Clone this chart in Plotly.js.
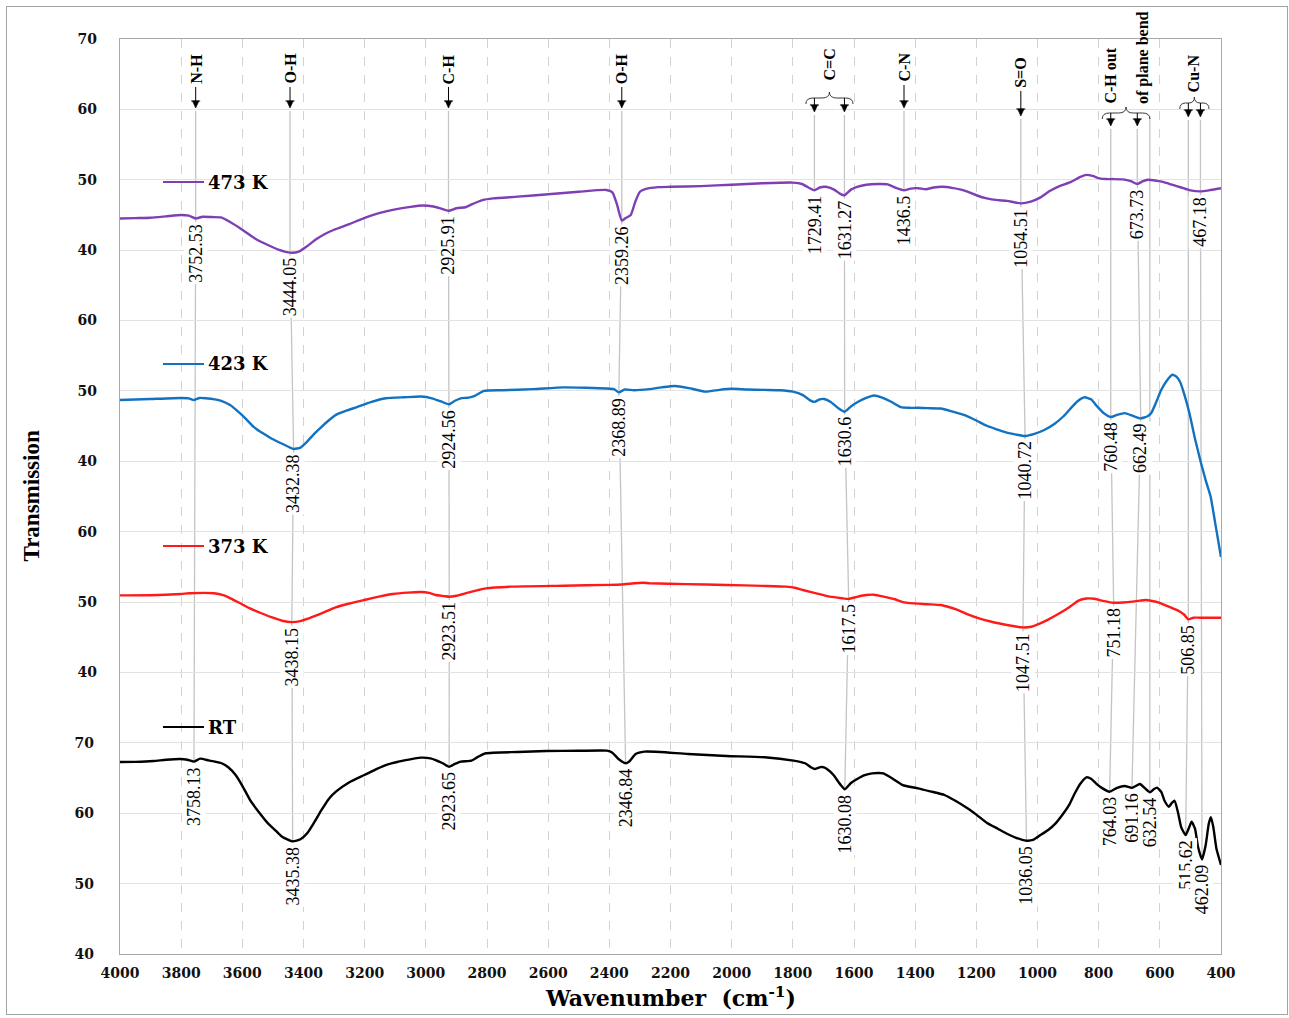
<!DOCTYPE html>
<html>
<head>
<meta charset="utf-8">
<script src="https://cdn.plot.ly/plotly-3.0.1.min.js"></script>
<style>
  html, body { margin: 0; padding: 0; background: #fff; }
  #chart { position: absolute; left: 0; top: 0; width: 1289px; height: 1018px; }
  #frame { position: absolute; left: 6px; top: 6px; width: 1282px; height: 1009px;
           border: 1px solid #a3a3a3; box-sizing: border-box; pointer-events: none; }
</style>
</head>
<body>
<div id="chart"></div>
<div id="frame"></div>
<script>
// ---- FTIR spectra (wavenumber in cm-1, transmission) ----
const seriesNames  = ['473 K', '423 K', '373 K', 'RT'];
const seriesColors = ['#7E3FB4', '#1272C2', '#FF1A1A', '#000000'];

const wn473 = [4000,3950,3900,3850,3800,3775,3752.53,3730,3700,3670,3640,3600,3560,3520,3480,3444.05,3415,3390,3360,3330,3300,3250,3200,3150,3100,3050,3010,2975,2950,2925.91,2900,2870,2850,2815,2780,2700,2600,2500,2410,2390,2375,2359.26,2345,2330,2315,2300,2280,2240,2200,2100,2000,1900,1800,1770,1745,1729.41,1712,1692,1665,1645,1631.27,1610,1590,1560,1520,1490,1460,1436.5,1415,1390,1365,1340,1310,1280,1250,1229,1200,1166,1130,1100,1054.51,1022,990,960,928,890,860,840,820,797,775,753,720,695,673.73,655,640,610,590,560,530,500,467.18,440,400];
const t473 = [44.5,44.55,44.6,44.8,45.0,44.9,44.5,44.75,44.7,44.65,44.0,42.9,41.7,40.8,40.05,39.65,39.8,40.5,41.5,42.3,42.9,43.7,44.6,45.3,45.8,46.15,46.35,46.2,45.9,45.6,45.95,46.1,46.5,47.1,47.35,47.6,47.95,48.3,48.55,48.2,46.5,44.2,44.6,45.0,46.9,48.3,48.7,48.95,49.0,49.1,49.3,49.5,49.6,49.4,48.8,48.5,48.9,49.0,48.6,48.0,47.8,48.6,49.0,49.3,49.4,49.35,48.8,48.5,48.75,48.8,48.65,48.9,49.0,48.85,48.6,48.3,47.8,47.35,47.1,47.0,46.65,46.9,47.5,48.4,49.1,49.7,50.4,50.7,50.55,50.2,50.1,50.1,50.05,49.8,49.4,49.8,50.0,49.85,49.7,49.3,48.9,48.5,48.35,48.5,48.8];

const wn423 = [4000,3900,3800,3775,3759,3740,3720,3690,3669,3640,3620,3590,3563,3530,3505,3470,3432.38,3410,3388,3365,3341,3315,3294,3260,3225,3180,3131,3070,3015,2980,2950,2924.56,2905,2886,2860,2840,2810,2750,2650,2550,2480,2410,2385,2368.89,2350,2320,2270,2230,2185,2140,2086,2040,1999,1950,1892,1842,1800,1767,1745,1729,1712,1698,1675,1650,1630.6,1610,1585,1560,1535,1510,1480,1460,1447,1420,1391,1360,1316,1280,1241,1200,1166,1130,1103,1070,1040.72,1010,978,945,915,890,870,846,825,805,785,760.48,740,715,690,662.49,640,628,610,596,575,559,545,534,520,503,485,465,450,434,420,400];
const t423 = [48.7,48.85,49.0,48.95,48.7,49.0,48.95,48.8,48.6,48.0,47.3,46.1,44.9,43.9,43.25,42.5,41.75,41.95,42.8,43.9,44.9,45.9,46.6,47.2,47.7,48.4,48.95,49.1,49.2,48.95,48.5,48.1,48.6,48.95,49.05,49.3,50.0,50.1,50.25,50.5,50.45,50.35,50.25,49.8,50.2,50.1,50.25,50.5,50.7,50.4,49.9,50.15,50.3,50.2,50.15,50.1,49.9,49.4,48.7,48.45,48.8,48.85,48.4,47.5,47.05,47.8,48.5,49.0,49.35,49.1,48.5,48.0,47.7,47.6,47.6,47.55,47.5,47.1,46.6,45.8,45.05,44.5,44.1,43.8,43.6,43.9,44.45,45.3,46.4,47.6,48.5,49.1,48.8,47.8,46.9,46.3,46.6,46.85,46.5,46.1,46.4,46.85,48.6,50.1,51.6,52.3,52.0,51.3,49.5,46.8,43.2,39.7,37.3,35.0,31.5,26.4];

const wn373 = [4000,3900,3800,3774,3693,3660,3645,3610,3575,3540,3505,3470,3438.15,3410,3388,3364,3330,3295,3250,3201,3150,3108,3060,3015,2990,2968,2940,2923.51,2900,2862,2830,2804,2722,2548,2400,2361,2290,2268,2150,2017,1900,1823,1790,1767,1720,1679,1640,1617.5,1590,1560,1535,1500,1466,1440,1417,1360,1316,1290,1266,1230,1191,1150,1116,1080,1047.51,1020,1003,970,928,895,866,840,815,790,751.18,720,690,665,647,625,603,585,565,545,534,520,506.85,490,470,400];
const t373 = [50.95,50.97,51.15,51.25,51.25,50.95,50.68,49.9,49.1,48.45,47.85,47.35,47.15,47.3,47.6,48.0,48.6,49.25,49.8,50.3,50.8,51.15,51.35,51.43,51.3,51.0,50.85,50.75,50.9,51.35,51.7,51.95,52.19,52.33,52.45,52.5,52.75,52.67,52.55,52.43,52.3,52.19,52.0,51.72,51.2,50.77,50.55,50.45,50.75,51.0,51.05,50.75,50.4,50.0,49.85,49.7,49.58,49.3,48.97,48.3,47.69,47.2,46.89,46.6,46.4,46.5,46.75,47.4,48.4,49.3,50.2,50.5,50.48,50.2,49.9,49.95,50.06,50.2,50.3,50.15,49.91,49.6,49.26,48.9,48.64,48.2,47.55,47.78,47.78,47.78];

const wnRT = [4000,3950,3890,3850,3803,3780,3758.13,3738,3710,3668,3645,3622,3600,3575,3545,3517,3490,3470,3435.38,3410,3388,3365,3341,3318,3294,3250,3201,3160,3131,3070,3015,2985,2968,2945,2923.65,2905,2886,2851,2830,2804,2700,2606,2500,2408,2390,2370,2346.84,2335,2314,2285,2234,2143,2017,1892,1798,1760,1740,1727,1710,1698,1680,1667,1645,1630.08,1610,1591,1565,1541,1504,1470,1441,1391,1350,1304,1270,1229,1200,1166,1130,1103,1070,1036.05,1015,990,965,940,915,895,878,860,840,825,809,790,764.03,740,715,700,691.16,675,665,650,632.54,620,609,595,585,571,560,552,540,530,515.62,505,496,485,475,462.09,450,440,433,425,415,400];
const tRT = [67.28,67.3,67.42,67.6,67.71,67.6,67.33,67.75,67.5,67.1,66.5,65.43,63.9,61.9,60.1,58.6,57.5,56.67,56.0,56.3,57.15,58.7,60.46,62.0,63.06,64.4,65.43,66.3,66.85,67.5,67.9,67.8,67.56,67.1,66.6,67.0,67.33,67.47,68.0,68.52,68.7,68.84,68.87,68.89,68.6,67.7,67.1,67.35,68.42,68.75,68.7,68.42,68.13,67.95,67.47,67.1,66.5,66.29,66.55,66.53,66.0,65.43,64.1,63.4,64.3,64.82,65.4,65.67,65.67,64.8,64.0,63.54,63.1,62.59,61.8,60.7,59.8,58.66,57.8,57.15,56.5,56.1,56.2,56.9,57.62,58.6,59.99,61.3,62.83,64.2,65.1,64.9,64.25,63.6,63.06,63.6,63.87,63.7,63.6,63.95,64.15,63.6,62.97,63.4,63.63,63.0,61.8,60.93,61.5,61.78,60.0,58.0,56.9,57.9,58.8,57.8,55.2,53.45,55.5,58.5,59.42,58.0,55.0,52.65];

// ---- marked band positions ----
const peakSeries = ['473 K','473 K','473 K','473 K','473 K','473 K','473 K','473 K','473 K','473 K',
                    '423 K','423 K','423 K','423 K','423 K','423 K','423 K',
                    '373 K','373 K','373 K','373 K','373 K','373 K',
                    'RT','RT','RT','RT','RT','RT','RT','RT','RT','RT','RT'];
const peakText = ['3752.53','3444.05','2925.91','2359.26','1729.41','1631.27','1436.5','1054.51','673.73','467.18',
                  '3432.38','2924.56','2368.89','1630.6','1040.72','760.48','662.49',
                  '3438.15','2923.51','1617.5','1047.51','751.18','506.85',
                  '3758.13','3435.38','2923.65','2346.84','1630.08','1036.05','764.03','691.16','632.54','515.62','462.09'];
const peakWn = peakText.map(Number);

// band assignments; each chain lists the peaks joined by one guide line
const groupLabels = [['N-H'],['O-H'],['C-H'],['O-H'],['C=C'],['C-N'],['S=O'],['C-H out','of plane bend'],['Cu-N']];
const groupChains = [[[0,23]], [[1,10,17,24]], [[2,11,18,25]], [[3,12,26]], [[4],[5,13,19,27]],
                     [[6]], [[7,14,20,28]], [[15,21,29],[8,16,30]], [[22,32],[9,33]]];
const groupTail = [null, null, null, null, null, null, null, 31, null];

// header geometry (page rows, px)
const headerGeom = [
  {textBottom: 86, tip: 108}, {textBottom: 86, tip: 108}, {textBottom: 86, tip: 108},
  {textBottom: 86, tip: 108}, {textBottom: 82, brace: 98, tip: 112}, {textBottom: 84, tip: 108},
  {textBottom: 90, tip: 116}, {textBottom: 106, brace: 113, tip: 126}, {textBottom: 94, brace: 103, tip: 117}
];

// ---- layout helpers ----
const W = 1289, H = 1018;
const M = {l: 120, r: 68, t: 39, b: 64};
const plotH = H - M.t - M.b, plotW = W - M.l - M.r;
const plotBottom = H - M.b;
const xSpan = 4000 - 400;
const paperY = row => (plotBottom - row) / plotH;
const paperX = col => (col - M.l) / plotW;
const pxToWn = px => px * xSpan / plotW;

const seriesData = {
  '473 K': {x: wn473, y: t473, axis: 'y4', range: [-60, 70], ticks: [40, 50, 60, 70]},
  '423 K': {x: wn423, y: t423, axis: 'y3', range: [-30, 100], ticks: [40, 50, 60]},
  '373 K': {x: wn373, y: t373, axis: 'y2', range: [0, 130], ticks: [40, 50, 60]},
  'RT':    {x: wnRT,  y: tRT,  axis: 'y',  range: [40, 170], ticks: [40, 50, 60, 70]}
};
const baseRange = seriesData['RT'].range;
// value on the base (RT) axis for a transmission value of a given series
const toBase = (name, t) => t + (baseRange[0] - seriesData[name].range[0]);
const paperToBase = p => baseRange[0] + p * (baseRange[1] - baseRange[0]);

function valueAt(name, wn) {
  const s = seriesData[name];
  const i = s.x.indexOf(wn);
  if (i >= 0) return s.y[i];
  for (let k = 0; k < s.x.length - 1; k++) {
    if (s.x[k] >= wn && s.x[k + 1] <= wn) {
      const f = (s.x[k] - wn) / (s.x[k] - s.x[k + 1]);
      return s.y[k] + f * (s.y[k + 1] - s.y[k]);
    }
  }
  return s.y[s.y.length - 1];
}

// ---- traces ----
const traces = seriesNames.map((name, i) => ({
  type: 'scatter', mode: 'lines', name: name,
  x: seriesData[name].x, y: seriesData[name].y,
  yaxis: seriesData[name].axis,
  line: {color: seriesColors[i], width: 2.4, shape: 'spline', smoothing: 0.5},
  hoverinfo: 'skip'
}));

const shapes = [];
const annotations = [];
const guide = {color: '#c4c4c4', width: 1.3};
const peakFont = {family: 'Liberation Serif, Times New Roman, serif', size: 18, color: '#000'};
const headFont = {family: 'Liberation Serif, Times New Roman, serif', size: 16, color: '#000', weight: 'bold'};

// down-pointing marker: stem plus filled head, tip at page row `tipRow`
function downArrow(wn, topRow, tipRow) {
  const half = pxToWn(3.2), headH = 7;
  shapes.push({type: 'line', xref: 'x', yref: 'paper', layer: 'above',
    x0: wn, x1: wn, y0: paperY(topRow), y1: paperY(tipRow - headH + 1),
    line: {color: '#000', width: 1}});
  shapes.push({type: 'path', xref: 'x', yref: 'paper', layer: 'above',
    path: `M ${wn + half},${paperY(tipRow - headH)} L ${wn - half},${paperY(tipRow - headH)} L ${wn},${paperY(tipRow)} Z`,
    fillcolor: '#000', line: {color: '#000', width: 0.6}});
  const bar = pxToWn(4.5);
  shapes.push({type: 'line', xref: 'x', yref: 'paper', layer: 'above',
    x0: wn + bar, x1: wn - bar, y0: paperY(tipRow - headH), y1: paperY(tipRow - headH),
    line: {color: '#000', width: 1}});
}

// guide lines from header arrows down through the spectra
groupChains.forEach((chains, g) => {
  const geom = headerGeom[g];
  const firstWns = chains.map(c => peakWn[c[0]]);
  let labelWn;
  if (geom.brace !== undefined) {
    const pad = 28;
    const left = Math.max(...firstWns) + pad;
    const right = groupTail[g] !== null ? peakWn[groupTail[g]] : Math.min(...firstWns) - pad;
    const mid = (left + right) / 2;
    labelWn = mid;
    const yb = paperY(geom.brace), h = 6 / plotH, d = Math.min(24, (left - right) / 5);
    shapes.push({
      type: 'path', xref: 'x', yref: 'paper', layer: 'above',
      path: `M ${left},${yb - h} Q ${left},${yb} ${left - d},${yb} L ${mid + d},${yb} ` +
            `Q ${mid},${yb} ${mid},${yb + h} Q ${mid},${yb} ${mid - d},${yb} ` +
            `L ${right + d},${yb} Q ${right},${yb} ${right},${yb - h}`,
      line: {color: '#3a3a3a', width: 1}
    });
    if (groupTail[g] !== null) {
      const p = groupTail[g];
      shapes.push({type: 'line', xref: 'x', yref: 'y', layer: 'below',
        x0: peakWn[p], x1: peakWn[p], y0: paperToBase(paperY(geom.brace + 3)),
        y1: toBase(peakSeries[p], valueAt(peakSeries[p], peakWn[p])), line: guide});
    }
  } else {
    labelWn = firstWns[0];
  }

  // header text, one rotated column per line
  const cols = groupLabels[g];
  const colGap = 33;
  cols.forEach((txt, c) => {
    annotations.push({
      x: labelWn, y: paperY(geom.textBottom), xref: 'x', yref: 'paper',
      xshift: (c - (cols.length - 1) / 2) * colGap,
      text: txt, showarrow: false, textangle: -90,
      xanchor: 'center', yanchor: 'bottom', font: headFont
    });
  });

  const stemTop = geom.brace !== undefined ? geom.brace : geom.textBottom + 1;
  chains.forEach(chain => {
    const wn0 = peakWn[chain[0]];
    downArrow(wn0, stemTop, geom.tip);
    let prevX = wn0, prevY = paperToBase(paperY(geom.tip + 3));
    chain.forEach(p => {
      const yv = toBase(peakSeries[p], valueAt(peakSeries[p], peakWn[p]));
      shapes.push({type: 'line', xref: 'x', yref: 'y', layer: 'below',
        x0: prevX, x1: peakWn[p], y0: prevY, y1: yv, line: guide});
      prevX = peakWn[p]; prevY = yv;
    });
  });
});

// peak value labels under each band
peakWn.forEach((wn, i) => {
  const name = peakSeries[i];
  annotations.push({
    x: wn, y: valueAt(name, wn), xref: 'x', yref: seriesData[name].axis,
    text: peakText[i], showarrow: false, textangle: -90,
    xanchor: 'center', yanchor: 'top', yshift: -3,
    bgcolor: '#ffffff', borderpad: 1, font: peakFont
  });
});

// inline series keys
const keyRows = [182, 364, 546, 727];
seriesNames.forEach((name, i) => {
  const yk = paperY(keyRows[i]);
  shapes.push({type: 'line', xref: 'paper', yref: 'paper', x0: paperX(163), x1: paperX(204),
    y0: yk, y1: yk, line: {color: seriesColors[i], width: 2}});
  annotations.push({x: paperX(206), y: yk, xref: 'paper', yref: 'paper', text: name,
    showarrow: false, xanchor: 'left', yanchor: 'middle',
    font: {family: 'DejaVu Serif, serif', size: 18, color: '#000', weight: 'bold'}});
});

// axis titles
annotations.push({x: 0.5, y: paperY(997), xref: 'paper', yref: 'paper',
  text: 'Wavenumber  (cm<sup>-1</sup>)', showarrow: false, xanchor: 'center', yanchor: 'middle',
  font: {family: 'DejaVu Serif, serif', size: 22, color: '#000', weight: 'bold'}});
annotations.push({x: paperX(31), y: 0.5, xref: 'paper', yref: 'paper',
  text: 'Transmission', showarrow: false, textangle: -90, xanchor: 'center', yanchor: 'middle',
  font: {family: 'Liberation Serif, Times New Roman, serif', size: 23, color: '#000', weight: 'bold'}});

// ---- axes ----
const tickFont = {family: 'DejaVu Serif, serif', size: 14, color: '#111', weight: 'bold'};
function yAxis(name, main) {
  const s = seriesData[name];
  const ax = {
    range: s.range, tickmode: 'array', tickvals: s.ticks, ticks: '',
    showgrid: true, gridcolor: '#e2e2e2', gridwidth: 1, zeroline: false,
    tickfont: tickFont, ticklabelstandoff: 22, side: 'left', fixedrange: true
  };
  if (main) {
    Object.assign(ax, {showline: true, mirror: true, linecolor: '#a8a8a8', linewidth: 1.2});
  } else {
    Object.assign(ax, {overlaying: 'y', anchor: 'x', showline: false});
  }
  return ax;
}

const layout = {
  width: W, height: H,
  margin: {l: M.l, r: M.r, t: M.t, b: M.b, pad: 0},
  paper_bgcolor: '#ffffff', plot_bgcolor: '#ffffff',
  showlegend: false,
  xaxis: {
    range: [4000, 400], tick0: 0, dtick: 200, ticks: '',
    showgrid: true, gridcolor: '#d2d2d2', griddash: 'dash', gridwidth: 1,
    showline: true, mirror: true, linecolor: '#a8a8a8', linewidth: 1.2,
    zeroline: false, tickfont: tickFont, ticklabelstandoff: 6, fixedrange: true
  },
  yaxis: yAxis('RT', true),
  yaxis2: yAxis('373 K', false),
  yaxis3: yAxis('423 K', false),
  yaxis4: yAxis('473 K', false),
  shapes: shapes,
  annotations: annotations
};

Plotly.newPlot('chart', traces, layout, {displayModeBar: false, staticPlot: true});
</script>
</body>
</html>
